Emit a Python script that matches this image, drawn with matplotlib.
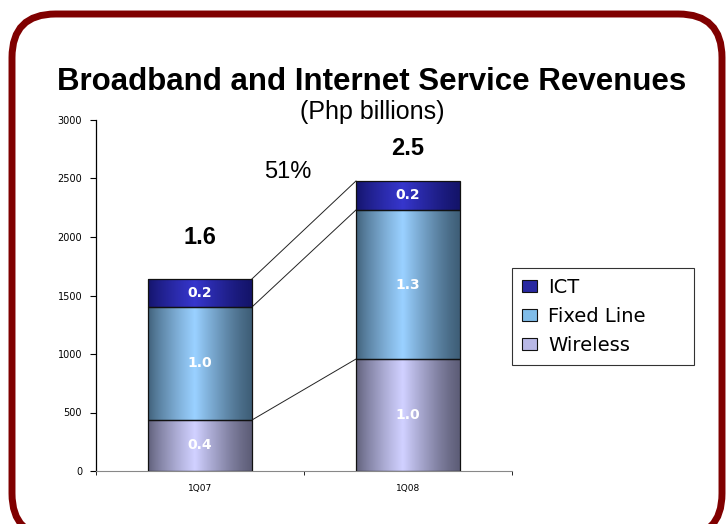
import numpy as np
import matplotlib.pyplot as plt
from matplotlib.colors import LinearSegmentedColormap
from matplotlib.patches import Rectangle, FancyBboxPatch, Patch

plt.rcParams['font.family'] = ['Liberation Sans', 'DejaVu Sans']

quarters = ['1Q07', '1Q08']
series = ['Wireless', 'Fixed Line', 'ICT']
wireless = [436, 957]
fixed_line = [966, 1274]
ict = [240, 248]
seg_labels = [['0.4', '1.0'], ['1.0', '1.3'], ['0.2', '0.2']]
totals = ['1.6', '2.5']
growth = '51%'

# edge colour / centre colour for the shaded bars
shades = {
    'Wireless': ('#5e5e78', '#d0d0ff'),
    'Fixed Line': ('#3f5f78', '#99d0ff'),
    'ICT': ('#14146a', '#3636cc'),
}
legend_cols = {'ICT': '#2828a0', 'Fixed Line': '#80bce8', 'Wireless': '#b8b8e6'}

fig = plt.figure(figsize=(7.26, 5.24), dpi=100)
fig.patch.set_facecolor('white')

# red rounded frame
frame = FancyBboxPatch((12 / 726, 1 - 537 / 524), 710 / 726, 523 / 524,
                       boxstyle='round,pad=0,rounding_size=0.06',
                       transform=fig.transFigure, facecolor='none',
                       edgecolor='#800000', linewidth=5, zorder=0,
                       mutation_aspect=726 / 524)
fig.patches.append(frame)

ax = fig.add_axes([96 / 726, 53 / 524, 416 / 726, 351 / 524])
ax.set_facecolor('none')

x = np.arange(len(quarters))
w = 0.5
data = [wireless, fixed_line, ict]
grad = np.concatenate([np.linspace(0, 1, 45) ** 0.8, np.linspace(1, 0, 55) ** 1.2])[None, :]

bottom = np.zeros(len(quarters))
tops = []
for name, vals, labs in zip(series, data, seg_labels):
    cmap = LinearSegmentedColormap.from_list(name, shades[name])
    for i in range(len(quarters)):
        x0 = x[i] - w / 2
        rect = Rectangle((x0, bottom[i]), w, vals[i], facecolor='none',
                         edgecolor='#111111', linewidth=0.9, zorder=3)
        ax.add_patch(rect)
        im = ax.imshow(grad, cmap=cmap, aspect='auto', zorder=2,
                       extent=(x0, x0 + w, bottom[i], bottom[i] + vals[i]))
        im.set_clip_path(rect)
        ax.text(x[i], bottom[i] + vals[i] / 2, labs[i], color='white',
                fontsize=10, fontweight='bold', family='DejaVu Sans',
                ha='center', va='center', zorder=4)
    bottom = bottom + np.array(vals)
    tops.append(bottom.copy())

# connector lines between the bars
for t in tops:
    ax.plot([x[0] + w / 2, x[1] - w / 2], [t[0], t[1]], color='#222222',
            linewidth=0.7, zorder=1)

for i, off in zip(range(len(quarters)), [350, 280]):
    ax.text(x[i], tops[-1][i] + off, totals[i], fontsize=17, fontweight='bold',
            ha='center', va='center')
ax.text(0.42, 2556, growth, fontsize=17, ha='center', va='center')

ax.set_xlim(-0.5, 1.5)
ax.set_ylim(0, 3000)
ax.set_yticks(np.arange(0, 3001, 500))
ax.set_xticks(x)
ax.set_xticklabels(quarters)
ax.set_xticks([-0.5, 0.5, 1.5], minor=True)
ax.tick_params(axis='x', which='major', length=0, labelsize=6.5, pad=9)
ax.tick_params(axis='x', which='minor', length=3, direction='out')
ax.tick_params(axis='y', labelsize=7, length=4, width=0.8, pad=6)
for lab in ax.get_xticklabels() + ax.get_yticklabels():
    lab.set_family('DejaVu Sans')
for s in ['top', 'right']:
    ax.spines[s].set_visible(False)
ax.spines['left'].set_linewidth(0.9)
ax.spines['bottom'].set_color('#888888')

fig.text(372 / 726, 1 - 82 / 524, 'Broadband and Internet Service Revenues',
         fontsize=22.5, fontweight='bold', ha='center', va='center')
fig.text(372 / 726, 1 - 112 / 524, '(Php billions)', fontsize=18,
         ha='center', va='center')

handles = [Patch(facecolor=legend_cols[n], edgecolor='#111111', linewidth=0.8)
           for n in reversed(series)]
leg = fig.legend(handles, list(reversed(series)), loc='upper left',
                 bbox_to_anchor=(512 / 726, 1 - 366 / 524, 182 / 726, 98 / 524),
                 mode='expand', prop={'family': 'DejaVu Sans', 'size': 14},
                 frameon=True, fancybox=False, edgecolor='black',
                 handlelength=0.8, handleheight=0.6, handletextpad=0.55,
                 labelspacing=0.52, borderpad=0.5, borderaxespad=0)
leg.get_frame().set_linewidth(0.8)

fig.savefig('out.png', dpi=100)
